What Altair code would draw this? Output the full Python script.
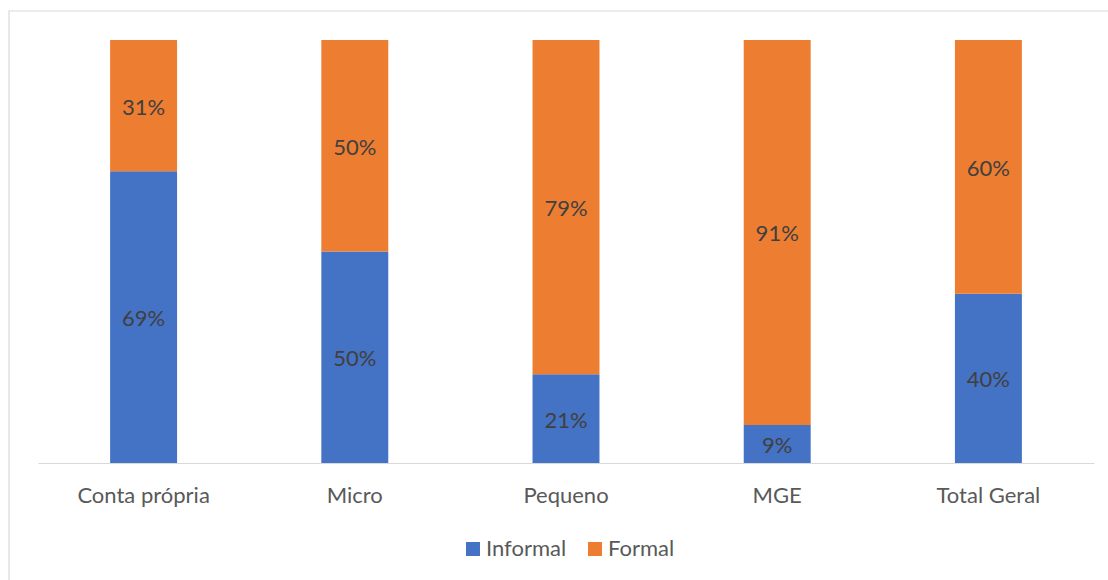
import altair as alt
import pandas as pd

categories = ["Conta própria", "Micro", "Pequeno", "MGE", "Total Geral"]
informal = [69, 50, 21, 9, 40]
formal = [31, 50, 79, 91, 60]
series = ["Informal", "Formal"]
colors = ["#4472C4", "#ED7D31"]

rows = []
for i, cat in enumerate(categories):
    rows.append({"cat": cat, "serie": "Informal", "ord": 0, "val": informal[i]})
    rows.append({"cat": cat, "serie": "Formal", "ord": 1, "val": formal[i]})
df = pd.DataFrame(rows)

FONT = "Lato"
FS = 22

base = alt.Chart(df).transform_stack(
    stack="val", groupby=["cat"], as_=["y0", "y1"],
    sort=[alt.SortField("ord", order="ascending")]
).transform_calculate(
    mid="(datum.y0 + datum.y1) / 2",
    lbl="datum.val + '%'"
)

x_enc = alt.X(
    "cat:N", sort=categories, title=None,
    scale=alt.Scale(paddingInner=0.683, paddingOuter=0.3415),
    axis=alt.Axis(labelAngle=0, labelFont=FONT, labelFontSize=FS,
                  labelColor="#595959", labelBaseline="middle",
                  labelPadding=32, ticks=False, domainColor="#d9d9d9",
                  domainWidth=1.2, grid=False),
)

bars = base.mark_bar().encode(
    x=x_enc,
    y=alt.Y("y0:Q", scale=alt.Scale(domain=[0, 100]), axis=None),
    y2="y1:Q",
    color=alt.Color(
        "serie:N", sort=series,
        scale=alt.Scale(domain=series, range=colors),
        legend=alt.Legend(
            title=None, orient="none", direction="horizontal",
            legendX=424, legendY=498, symbolType="square", symbolSize=196,
            symbolStrokeWidth=0, labelFont=FONT, labelFontSize=FS,
            labelColor="#595959", labelOffset=2, columnPadding=17,
        ),
    ),
)

labels = base.mark_text(font=FONT, fontSize=FS, color="#404040",
                        baseline="middle", dy=2).encode(
    x=alt.X("cat:N", sort=categories),
    y=alt.Y("mid:Q", scale=alt.Scale(domain=[0, 100])),
    text="lbl:N",
)

frame = alt.Chart(pd.DataFrame({"k": [0]})).mark_rect(
    fill=None, stroke="#d9d9d9", strokeWidth=1.2
).encode(
    x=alt.value(-29), x2=alt.value(1090),
    y=alt.value(-29), y2=alt.value(600),
)

chart = alt.layer(frame, bars, labels).properties(
    width=1056, height=423,
    padding={"left": 38, "top": 40, "right": 14, "bottom": 117},
    autosize=alt.AutoSizeParams(type="none"),
    background="white",
).configure_view(stroke=None)

chart.save("out.html", embed_options={"renderer": "svg", "actions": False})
